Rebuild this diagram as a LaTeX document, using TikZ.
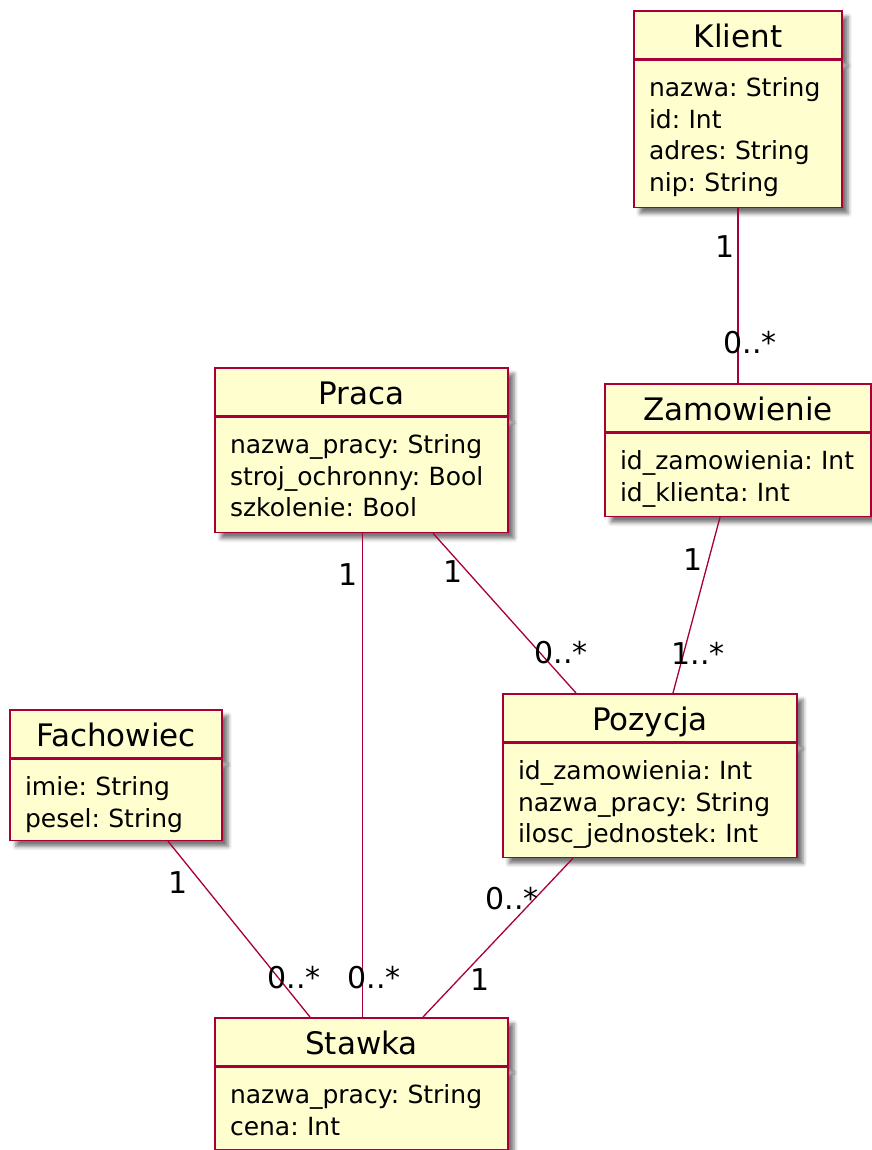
\documentclass[tikz,border=0pt]{standalone}
\usepackage{fontspec}
\setmainfont{DejaVu Sans}
\usetikzlibrary{positioning,shadows.blur}
\definecolor{umlborder}{HTML}{A80036}
\definecolor{umlfill}{HTML}{FEFECE}

\begin{document}
\begin{tikzpicture}[x=1pt, y=1pt, semithick]
    \tikzstyle{box}=[draw=umlborder, line width=1.6pt, fill=umlfill,
        blur shadow={shadow xshift=6pt, shadow yshift=-6pt, shadow blur radius=4pt, shadow opacity=55}]
    \tikzstyle{classname}=[box, anchor=north, minimum height=48pt, inner sep=0pt,
        text height=26pt, text depth=0pt, font=\fontsize{31}{36}\selectfont]
    \tikzstyle{attrs}=[box, align=left, inner xsep=15pt, inner ysep=0pt,
        text height=36pt, font=\fontsize{25}{31.7}\selectfont\frenchspacing]
    \tikzstyle{assoc}=[draw=umlborder, line width=1.3pt]
    \tikzstyle{mult}=[inner sep=0pt, font=\fontsize{30}{34}\selectfont]

    \useasboundingbox (0,0) rectangle (871,-1150);

    % classes
    \node[classname, minimum width=208pt] (klient) at (738,-10) {Klient};
    \node[attrs, text width=178pt, text depth=111pt, below=0pt of klient] (klientAttr)
        {nazwa: String\\id: Int\\adres: String\\nip: String};

    \node[classname, minimum width=266pt] (zamowienie) at (738,-383) {Zamowienie};
    \node[attrs, text width=236pt, text depth=47pt, below=0pt of zamowienie] (zamowienieAttr)
        {id\_zamowienia: Int\\id\_klienta: Int};

    \node[classname, minimum width=293pt] (praca) at (361.5,-367) {Praca};
    \node[attrs, text width=263pt, text depth=79pt, below=0pt of praca] (pracaAttr)
        {nazwa\_pracy: String\\stroj\_ochronny: Bool\\szkolenie: Bool};

    \node[classname, minimum width=294pt] (pozycja) at (650,-693) {Pozycja};
    \node[attrs, text width=264pt, text depth=78pt, below=0pt of pozycja] (pozycjaAttr)
        {id\_zamowienia: Int\\nazwa\_pracy: String\\ilosc\_jednostek: Int};

    \node[classname, minimum width=212pt] (fachowiec) at (116,-709) {Fachowiec};
    \node[attrs, text width=182pt, text depth=45pt, below=0pt of fachowiec] (fachowiecAttr)
        {imie: String\\pesel: String};

    \node[classname, minimum width=293pt] (stawka) at (361.5,-1017) {Stawka};
    \node[attrs, text width=263pt, text depth=46pt, below=0pt of stawka] (stawkaAttr)
        {nazwa\_pracy: String\\cena: Int};

    % associations
    \path[assoc] (klientAttr.south) -- (zamowienie.north);
    \path[assoc] ([xshift=-18pt]zamowienieAttr.south) -- ([xshift=23pt]pozycja.north);
    \path[assoc] ([xshift=71.5pt]pracaAttr.south) -- ([xshift=-74pt]pozycja.north);
    \path[assoc] ([xshift=1pt]pracaAttr.south) -- ([xshift=1pt]stawka.north);
    \path[assoc] ([xshift=52pt]fachowiecAttr.south) -- ([xshift=-51.5pt]stawka.north);
    \path[assoc] ([xshift=-77pt]pozycjaAttr.south) -- ([xshift=61.5pt]stawka.north);

    % multiplicities
    \node[mult] (mKlient) at (725,-247) {1};
    \node[mult] (mZamowienieTop) at (750,-343) {0..*};
    \node[mult] (mZamowienieBot) at (693,-560) {1};
    \node[mult] (mPozycjaZam) at (698,-653) {1..*};
    \node[mult] (mPracaPoz) at (453,-572) {1};
    \node[mult] (mPozycjaPraca) at (561,-653) {0..*};
    \node[mult] (mPracaSt) at (348,-575) {1};
    \node[mult] (mStawkaPraca) at (374,-978) {0..*};
    \node[mult] (mFachowiec) at (178,-883) {1};
    \node[mult] (mStawkaFach) at (294,-978) {0..*};
    \node[mult] (mPozycjaSt) at (512,-899) {0..*};
    \node[mult] (mStawkaPoz) at (480,-980) {1};

\end{tikzpicture}
\end{document}
